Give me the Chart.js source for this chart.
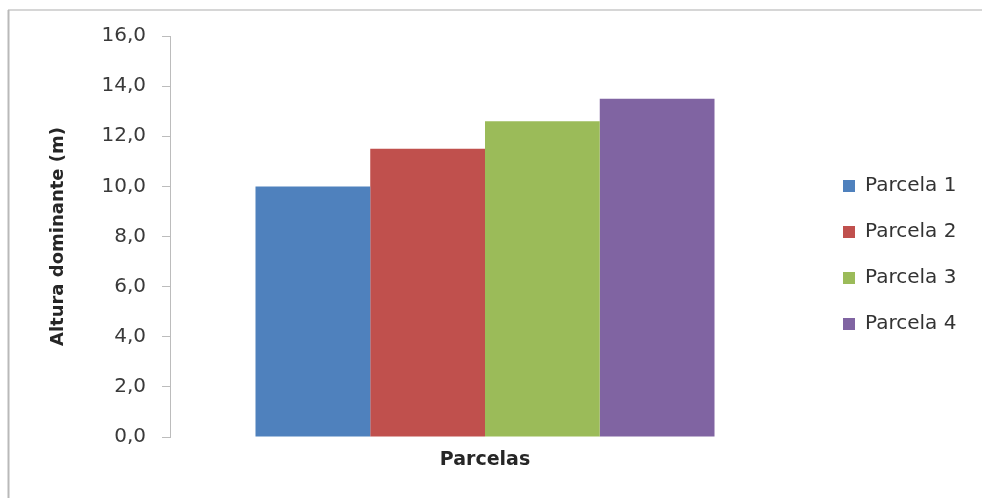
<!DOCTYPE html>
<html>
<head>
<meta charset="utf-8">
<script src="https://cdn.jsdelivr.net/npm/chart.js@4/dist/chart.umd.min.js"></script>
<style>
  html, body { margin: 0; padding: 0; background: #ffffff; }
  #wrap { position: relative; width: 982px; height: 498px; }
  canvas { display: block; }
</style>
</head>
<body>
<div id="wrap"><canvas id="c" width="982" height="498"></canvas></div>
<script>
// Dominant height per plot (m)
const categories = ['Parcelas'];
const seriesNames = ['Parcela 1', 'Parcela 2', 'Parcela 3', 'Parcela 4'];
const seriesValues = [10.0, 11.5, 12.6, 13.5];
const seriesColors = ['#4F81BD', '#C0504D', '#9BBB59', '#8064A2'];
const yTickValues = [0, 2, 4, 6, 8, 10, 12, 14, 16];

const FONT = "'DejaVu Sans', 'Liberation Sans', sans-serif";

// Light frame around the chart (top and left edges)
const framePlugin = {
  id: 'frame',
  beforeDraw(chart) {
    const ctx = chart.ctx;
    ctx.save();
    ctx.lineWidth = 2;
    ctx.strokeStyle = '#d6d6d6';
    ctx.beginPath();
    ctx.moveTo(8, 10);
    ctx.lineTo(chart.width, 10);
    ctx.stroke();
    ctx.strokeStyle = '#b9b9b9';
    ctx.beginPath();
    ctx.moveTo(8.5, 10);
    ctx.lineTo(8.5, chart.height);
    ctx.stroke();
    ctx.restore();
  }
};

// Place the legend to the right of the plot area
const legendPlace = {
  id: 'legendPlace',
  beforeDraw(chart) {
    const lg = chart.legend;
    if (!lg) return;
    const w = lg.width;
    lg.left = 817;
    lg.right = lg.left + w;
    lg.top = 150;
    lg.bottom = lg.top + 400;
  }
};

new Chart(document.getElementById('c'), {
  type: 'bar',
  data: {
    labels: categories,
    datasets: seriesNames.map((name, i) => ({
      label: name,
      data: [seriesValues[i]],
      backgroundColor: seriesColors[i],
      borderWidth: 0
    }))
  },
  options: {
    responsive: false,
    animation: false,
    devicePixelRatio: 1,
    layout: { padding: { left: 44, top: 36, right: 182, bottom: 23 } },
    datasets: { bar: { categoryPercentage: 0.7286, barPercentage: 1.0 } },
    plugins: {
      legend: {
        position: 'chartArea',
        align: 'start',
        labels: {
          boxWidth: 12,
          boxHeight: 12,
          padding: 26,
          color: '#333333',
          font: { family: FONT, size: 20 }
        }
      },
      tooltip: { enabled: false }
    },
    scales: {
      x: {
        grid: { display: false },
        border: { display: false },
        ticks: { display: false },
        title: {
          display: true,
          text: 'Parcelas',
          color: '#262626',
          font: { family: FONT, size: 19, weight: 'bold' }
        },
        afterFit(scale) { scale.height = 38; }
      },
      y: {
        min: 0,
        max: 16,
        afterBuildTicks(scale) { scale.ticks = yTickValues.map(v => ({ value: v })); },
        grid: {
          drawOnChartArea: false,
          drawTicks: true,
          tickLength: 8,
          color: '#bcbcbc'
        },
        border: { display: true, color: '#bcbcbc', width: 1 },
        ticks: {
          padding: 16,
          color: '#3a3a3a',
          font: { family: FONT, size: 20 },
          callback: v => v.toFixed(1).replace('.', ',')
        },
        title: {
          display: true,
          text: 'Altura dominante (m)',
          color: '#262626',
          font: { family: FONT, size: 18, weight: 'bold' }
        },
        afterFit(scale) { scale.width = 126; }
      }
    }
  },
  plugins: [framePlugin, legendPlace]
});
</script>
</body>
</html>
